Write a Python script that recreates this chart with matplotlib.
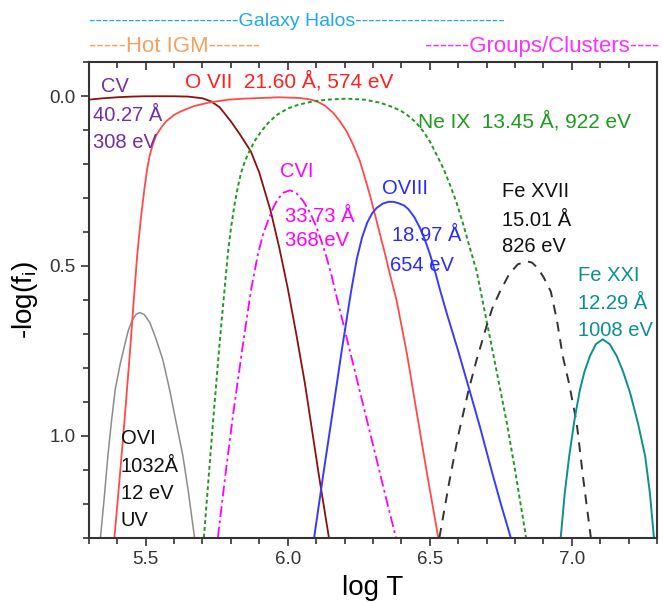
import matplotlib
matplotlib.use("Agg")
import matplotlib.pyplot as plt
from matplotlib.ticker import MultipleLocator

plt.rcParams["font.family"] = ["Liberation Sans", "DejaVu Sans"]

# ion fraction curves, -log(f_i) vs log T
ovi_T = [5.341, 5.355, 5.367, 5.38, 5.393, 5.41, 5.431, 5.44, 5.455, 5.467, 5.479,
         5.495, 5.515, 5.537, 5.56, 5.584, 5.61, 5.631, 5.65, 5.672]
ovi_f = [1.30, 1.175, 1.059, 0.955, 0.863, 0.79, 0.716, 0.687, 0.656, 0.642, 0.637,
         0.643, 0.667, 0.716, 0.775, 0.863, 0.972, 1.059, 1.163, 1.30]

cv_T = [5.30, 5.35, 5.40, 5.45, 5.50, 5.55, 5.60, 5.65, 5.70, 5.73, 5.76, 5.80, 5.83,
        5.87, 5.90, 5.94, 5.97, 6.00, 6.03, 6.06, 6.085, 6.11, 6.145]
cv_f = [0.010, 0.006, 0.003, 0.001, 0.0, 0.0, 0.0, 0.001, 0.006, 0.015, 0.032, 0.074, 0.11,
        0.162, 0.225, 0.338, 0.445, 0.565, 0.70, 0.843, 0.98, 1.118, 1.30]

ovii_T = [5.39, 5.41, 5.428, 5.445, 5.46, 5.47, 5.483, 5.496, 5.505, 5.514, 5.525, 5.537,
          5.555, 5.572, 5.60, 5.625, 5.67, 5.72, 5.79, 5.85, 5.91, 5.97, 6.04, 6.07, 6.10,
          6.13, 6.16, 6.185, 6.207, 6.23, 6.254, 6.27, 6.289, 6.307, 6.325, 6.343, 6.36,
          6.383, 6.42, 6.454, 6.49, 6.53]
ovii_f = [1.30, 1.11, 0.93, 0.75, 0.58, 0.47, 0.36, 0.27, 0.215, 0.175, 0.142, 0.115,
          0.092, 0.074, 0.055, 0.044, 0.029, 0.019, 0.010, 0.007, 0.005, 0.003, 0.005, 0.008, 0.014,
          0.027, 0.049, 0.075, 0.103, 0.142, 0.191, 0.235, 0.29, 0.348, 0.407, 0.466, 0.525,
          0.60, 0.76, 0.931, 1.11, 1.30]

neix_T = [5.705, 5.72, 5.74, 5.76, 5.777, 5.789, 5.80, 5.813, 5.825, 5.836, 5.85, 5.866,
          5.885, 5.907, 5.93, 5.96, 6.00, 6.03, 6.067, 6.10, 6.14, 6.207, 6.27, 6.325,
          6.37, 6.40, 6.419, 6.45, 6.477, 6.50, 6.524, 6.548, 6.571, 6.595, 6.618, 6.64,
          6.665, 6.677, 6.72, 6.771, 6.80, 6.839]
neix_f = [1.30, 1.14, 0.93, 0.73, 0.575, 0.466, 0.39, 0.318, 0.265, 0.225, 0.19, 0.160,
          0.13, 0.103, 0.08, 0.056, 0.036, 0.027, 0.019, 0.014, 0.010, 0.007, 0.010, 0.019,
          0.032, 0.044, 0.054, 0.076, 0.103, 0.133, 0.172, 0.213, 0.26, 0.315, 0.378, 0.443,
          0.515, 0.565, 0.745, 0.961, 1.10, 1.30]

cvi_T = [5.754, 5.78, 5.809, 5.84, 5.871, 5.895, 5.912, 5.93, 5.948, 5.965, 5.985, 6.008,
         6.03, 6.055, 6.08, 6.102, 6.12, 6.137, 6.152, 6.166, 6.20, 6.235, 6.272, 6.31,
         6.345, 6.381]
cvi_f = [1.30, 1.12, 0.93, 0.745, 0.57, 0.466, 0.41, 0.368, 0.33, 0.303, 0.284, 0.277,
         0.285, 0.309, 0.345, 0.387, 0.43, 0.475, 0.52, 0.57, 0.685, 0.805, 0.931, 1.06,
         1.18, 1.30]

oviii_T = [6.093, 6.125, 6.158, 6.19, 6.222, 6.243, 6.262, 6.28, 6.297, 6.313, 6.335,
           6.355, 6.372, 6.39, 6.41, 6.424, 6.445, 6.465, 6.483, 6.501, 6.52, 6.536, 6.56,
           6.60, 6.642, 6.677, 6.72, 6.75, 6.785]
oviii_f = [1.30, 1.115, 0.931, 0.75, 0.58, 0.48, 0.415, 0.372, 0.345, 0.329, 0.316,
           0.311, 0.311, 0.315, 0.322, 0.332, 0.355, 0.387, 0.423, 0.466, 0.52, 0.57, 0.64,
           0.75, 0.872, 0.975, 1.11, 1.20, 1.30]

fexvii_T = [6.534, 6.57, 6.60, 6.636, 6.665, 6.70, 6.72, 6.745, 6.78, 6.81, 6.841, 6.86,
            6.88, 6.90, 6.926, 6.947, 6.968, 6.99, 7.017, 7.04, 7.067]
fexvii_f = [1.30, 1.13, 1.00, 0.868, 0.776, 0.677, 0.625, 0.579, 0.523, 0.495, 0.486, 0.49,
            0.506, 0.532, 0.575, 0.657, 0.765, 0.845, 0.961, 1.125, 1.30]

fexxi_T = [6.961, 6.975, 6.991, 7.01, 7.029, 7.045, 7.064, 7.085, 7.109, 7.133, 7.158,
           7.18, 7.205, 7.232, 7.258, 7.275, 7.289]
fexxi_f = [1.30, 1.17, 1.059, 0.95, 0.863, 0.81, 0.765, 0.73, 0.716, 0.73, 0.765,
           0.81, 0.873, 0.96, 1.059, 1.17, 1.30]

fig = plt.figure(figsize=(6.63, 6.02), dpi=100)
ax = fig.add_axes([0.134, 0.107, 0.857, 0.7895])

ax.plot(ovi_T, ovi_f, color="#8c8c8c", lw=1.1)
ax.plot(cv_T, cv_f, color="#8b1010", lw=1.3)
ax.plot(ovii_T, ovii_f, color="#ff4a4a", lw=1.3)
ax.plot(neix_T, neix_f, color="#1f9a1f", lw=1.4, ls=(0, (2, 1.5)))
ax.plot(cvi_T, cvi_f, color="#ff00ff", lw=1.3, ls=(0, (6, 2, 1.5, 2)))
ax.plot(oviii_T, oviii_f, color="#3a3aff", lw=1.4)
ax.plot(fexvii_T, fexvii_f, color="#333333", lw=1.4, ls=(0, (5, 4)))
ax.plot(fexxi_T, fexxi_f, color="#0a9090", lw=1.4)

ax.set_xlim(5.3, 7.3)
ax.set_ylim(1.3, -0.1)

ax.xaxis.set_minor_locator(MultipleLocator(0.1))
ax.yaxis.set_minor_locator(MultipleLocator(0.1))
ax.set_xticks([5.5, 6.0, 6.5, 7.0])
ax.set_yticks([0.0, 0.5, 1.0])
ax.tick_params(which="both", direction="out", width=1.2, colors="#333333", labelsize=13.5)
ax.tick_params(which="major", length=6)
ax.tick_params(which="minor", length=4)

top = ax.secondary_xaxis("top")
top.xaxis.set_major_locator(MultipleLocator(0.5))
top.xaxis.set_minor_locator(MultipleLocator(0.1))
top.tick_params(which="both", direction="in", width=1.2, colors="#333333", labeltop=False)
top.tick_params(which="major", length=6)
top.tick_params(which="minor", length=4)

for sp in ax.spines.values():
    sp.set_linewidth(1.5)
    sp.set_color("#333333")
top.spines["top"].set_visible(False)

ax.set_xlabel("log T", fontsize=20, labelpad=5)
ax.set_ylabel("-log(f$_\\mathregular{i}$)", fontsize=20, labelpad=7)

fs = 14.5
fl = 15
ax.text(5.342, -0.014, "CV", color="#7030a0", fontsize=fs)
ax.text(5.314, 0.074, "40.27 Å", color="#7030a0", fontsize=fs)
ax.text(5.314, 0.151, "308 eV", color="#7030a0", fontsize=fs)

ax.text(5.638, -0.026, "O VII  21.60 Å, 574 eV", color="#ff2020", fontsize=fl)
ax.text(6.458, 0.092, "Ne IX  13.45 Å, 922 eV", color="#1f9a1f", fontsize=fl)

ax.text(5.973, 0.239, "CVI", color="#ff00ff", fontsize=fs)
ax.text(5.990, 0.369, "33.73 Å", color="#ff00ff", fontsize=fs)
ax.text(5.990, 0.442, "368 eV", color="#ff00ff", fontsize=fs)

ax.text(6.332, 0.289, "OVIII", color="#2a2aff", fontsize=fs)
ax.text(6.367, 0.427, "18.97 Å", color="#2a2aff", fontsize=fs)
ax.text(6.360, 0.516, "654 eV", color="#2a2aff", fontsize=fs)

ax.text(6.754, 0.298, "Fe XVII", color="#111111", fontsize=fs)
ax.text(6.754, 0.383, "15.01 Å", color="#111111", fontsize=fs)
ax.text(6.754, 0.460, "826 eV", color="#111111", fontsize=fs)

ax.text(7.022, 0.545, "Fe XXI", color="#0a9090", fontsize=fs)
ax.text(7.022, 0.627, "12.29 Å", color="#0a9090", fontsize=fs)
ax.text(7.022, 0.707, "1008 eV", color="#0a9090", fontsize=fs)

ax.text(5.413, 1.024, "OVI", color="#111111", fontsize=fs)
ax.text(5.413, 1.107, "1032Å", color="#111111", fontsize=fs)
ax.text(5.413, 1.186, "12 eV", color="#111111", fontsize=fs)
ax.text(5.413, 1.266, "UV", color="#111111", fontsize=fs)

fig.text(89 / 663, 1 - 26 / 602, "-" * 23 + "Galaxy Halos" + "-" * 23,
         color="#1ea8f0", fontsize=14, ha="left", va="baseline")
fig.text(89 / 663, 1 - 52 / 602, "-----Hot IGM-------",
         color="#f7a060", fontsize=16, ha="left", va="baseline")
fig.text(425 / 663, 1 - 52 / 602, "------Groups/Clusters----",
         color="#ff30ff", fontsize=16, ha="left", va="baseline")

fig.savefig("out.png", dpi=100)
